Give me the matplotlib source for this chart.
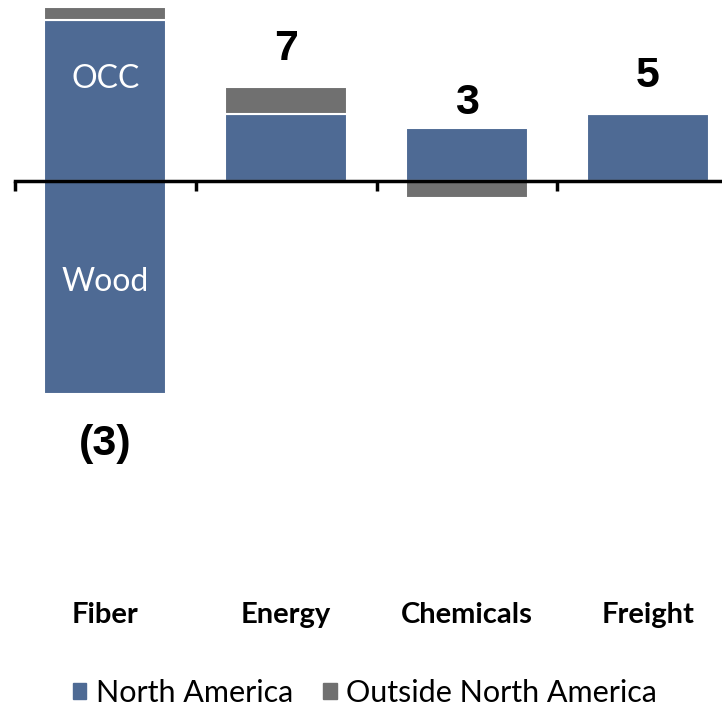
import numpy as np
import matplotlib.pyplot as plt
from matplotlib.patches import Patch
import matplotlib.transforms as mtransforms

# data
categories = ['Fiber', 'Energy', 'Chemicals', 'Freight']
na_pos = [12.0, 5.0, 3.9, 5.0]     # North America, positive part (OCC for Fiber)
na_neg = [-16.0, 0.0, 0.0, 0.0]    # North America, negative part (Wood for Fiber)
outside = [1.0, 2.0, -1.3, 0.0]    # Outside North America
seg_names = ['OCC', 'Wood']

blue = '#4E6A94'
gray = '#707070'

fig = plt.figure(figsize=(7.22, 7.08), dpi=100)
W, H = 722, 708
# axes: x from px 15 to 722, y from px 0 to 420
ax = fig.add_axes([15 / W, 1 - 420 / H, (722 - 15) / W, 420 / H])

x = np.arange(len(categories))
na_pos = np.array(na_pos)
na_neg = np.array(na_neg)
outside = np.array(outside)

bw = 0.675
ax.bar(x, na_pos, bw, color=blue, edgecolor='white', linewidth=1.5, zorder=2)
ax.bar(x, na_neg, bw, color=blue, edgecolor='white', linewidth=1.5, zorder=2)
out_bottom = np.where(outside >= 0, na_pos, na_neg)
ax.bar(x, outside, bw, bottom=out_bottom, color=gray, edgecolor='white',
       linewidth=1.5, zorder=2)

# segment names inside Fiber bar
ax.text(0, 7.6, seg_names[0], color='white', ha='center', va='center',
        fontsize=23, family='Lato')
ax.text(0, -7.6, seg_names[1], color='white', ha='center', va='center',
        fontsize=23, family='Lato')

# totals
totals = na_pos + na_neg + outside
offsets = [36, 27, 18, 27]
for i, t in enumerate(totals):
    lab = f'({abs(round(t)):.0f})' if t < 0 else f'{round(t):.0f}'
    if t < 0:
        y = na_neg[i] + min(outside[i], 0)
        dy = -offsets[i]
    else:
        y = na_pos[i] + max(outside[i], 0)
        dy = offsets[i]
    ax.annotate(lab, (i, y), xytext=(0, dy), textcoords='offset points',
                ha='center', va='center', fontsize=31, fontweight='bold',
                family='Liberation Sans')

ax.set_xlim(-0.5, -0.5 + 707 / 180.8)
ax.set_ylim(-(420 - 180.5) / 13.36, 180.5 / 13.36)

for s in ['top', 'right', 'left']:
    ax.spines[s].set_visible(False)
ax.spines['bottom'].set_position(('data', 0))
ax.spines['bottom'].set_linewidth(2.5)
ax.spines['bottom'].set_zorder(3)
ax.set_yticks([])
ax.set_xticks([-0.5, 0.5, 1.5, 2.5])
ax.set_xticklabels([])
ax.tick_params(axis='x', direction='out', length=7, width=2.5)

# category labels
trans = mtransforms.blended_transform_factory(ax.transData, fig.transFigure)
for i, c in enumerate(categories):
    ax.text(i, 1 - 615 / H, c, transform=trans, ha='center', va='center',
            fontsize=21, fontweight='bold', family='Lato', clip_on=False)

handles = [Patch(color=blue), Patch(color=gray)]
fig.legend(handles, ['North America', 'Outside North America'],
           loc='center', bbox_to_anchor=(365 / W, 1 - 693 / H), ncol=2,
           frameon=False, prop={'family': 'Lato', 'size': 22},
           handlelength=0.45, handleheight=0.45, handletextpad=0.3,
           columnspacing=1.0)

fig.savefig('out.png', dpi=100)
